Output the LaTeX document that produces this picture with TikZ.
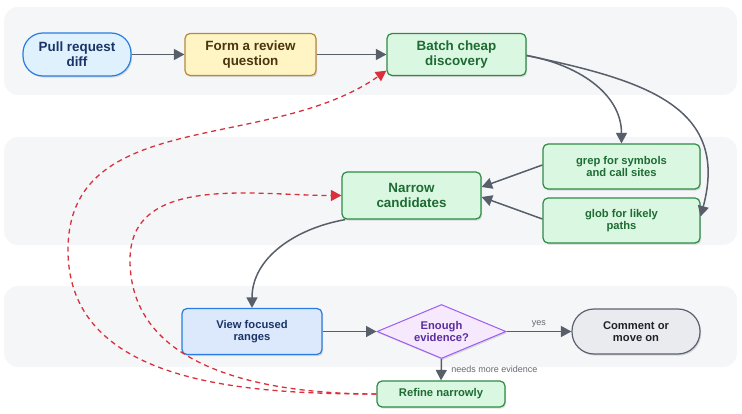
\documentclass[tikz,border=0pt]{standalone}
\usepackage{fontspec}
\setmainfont{Liberation Sans}
\usetikzlibrary{shapes.geometric}
\usetikzlibrary{arrows.meta}
\usetikzlibrary{shadows}
\definecolor{bandgray}{RGB}{245,246,248}
\definecolor{edgegray}{RGB}{88,95,106}
\definecolor{labelgray}{RGB}{100,104,112}
\definecolor{loopred}{RGB}{217,48,59}
\definecolor{bluefill}{RGB}{222,241,253}
\definecolor{blueline}{RGB}{40,125,225}
\definecolor{bluetext}{RGB}{26,52,104}
\definecolor{yellowfill}{RGB}{255,244,196}
\definecolor{yellowline}{RGB}{184,137,58}
\definecolor{yellowtext}{RGB}{74,53,16}
\definecolor{greenfill}{RGB}{218,247,225}
\definecolor{greenline}{RGB}{46,139,69}
\definecolor{greentext}{RGB}{30,107,51}
\definecolor{viewfill}{RGB}{220,232,252}
\definecolor{purplefill}{RGB}{246,232,253}
\definecolor{purpleline}{RGB}{156,92,240}
\definecolor{purpletext}{RGB}{91,45,158}
\definecolor{greyfill}{RGB}{233,235,239}
\definecolor{greyline}{RGB}{90,97,112}
\definecolor{greytext}{RGB}{31,35,40}

\tikzset{
  box/.style={rectangle, rounded corners=5pt, line width=1.2pt, align=center,
    inner sep=0pt, drop shadow={shadow xshift=1.2pt, shadow yshift=-1.6pt,
    opacity=0.12, fill=black}},
  big/.style={font=\fontsize{13.4}{14.8}\selectfont\bfseries},
  small/.style={font=\fontsize{11.2}{12.5}\selectfont\bfseries},
  greenbox/.style={box, fill=greenfill, draw=greenline, text=greentext},
  flow/.style={draw=edgegray, line width=1.5pt, -{Triangle[length=10.5pt,width=11pt]}},
  loop/.style={draw=loopred, line width=1.3pt, dash pattern=on 5pt off 4pt,
    -{Triangle[length=10.5pt,width=11pt]}},
  edgelabel/.style={font=\fontsize{9}{10}\selectfont, text=labelgray}
}

\begin{document}
\begin{tikzpicture}[x=1pt,y=1pt]
\useasboundingbox (0,0) rectangle (742,413);

% ---- Bands ----
\fill[bandgray, rounded corners=14pt] (4,318) rectangle (737,406);
\fill[bandgray, rounded corners=14pt] (4,168) rectangle (737,276);
\fill[bandgray, rounded corners=14pt] (4,46) rectangle (737,127);

% ---- Top row ----
\node[box, big, fill=bluefill, draw=blueline, text=bluetext, rounded corners=20pt,
  minimum width=108pt, minimum height=43pt] (pr) at (77,358.5) {Pull request\\diff};
\node[box, big, fill=yellowfill, draw=yellowline, text=yellowtext,
  minimum width=131pt, minimum height=42pt] (form) at (250.5,358.5) {Form a review\\question};
\node[greenbox, big, minimum width=139pt, minimum height=42pt]
  (batch) at (456.5,358.5) {Batch cheap\\discovery};

% ---- Middle row ----
\node[greenbox, small, minimum width=157pt, minimum height=45pt]
  (grep) at (621.5,246.5) {grep for symbols\\and call sites};
\node[greenbox, small, minimum width=157pt, minimum height=45pt]
  (glob) at (621.5,192.5) {glob for likely\\paths};
\node[greenbox, big, minimum width=139pt, minimum height=47pt]
  (narrow) at (411.5,217.5) {Narrow\\candidates};

% ---- Bottom row ----
\node[box, small, fill=viewfill, draw=blueline, text=bluetext,
  minimum width=140pt, minimum height=46pt] (view) at (252,81.5) {View focused\\ranges};
\node[box, small, diamond, aspect=2.4, fill=purplefill, draw=purpleline, text=purpletext,
  line width=1pt, rounded corners=0pt, minimum width=129pt, minimum height=54pt]
  (enough) at (441.5,81.5) {Enough\\evidence?};
\node[box, small, fill=greyfill, draw=greyline, text=greytext, rounded corners=22pt,
  minimum width=128pt, minimum height=45pt] (comment) at (636,81.5) {Comment or\\move on};
\node[greenbox, small, minimum width=128pt, minimum height=26pt]
  (refine) at (441,19) {Refine narrowly};

% turning points of the loops
\coordinate (outerturn) at (68,163);
\coordinate (innerturn) at (130,153);

% ---- Main flow ----
\draw[flow] (pr.east) -- (form.west);
\draw[flow] (form.east) -- (batch.west);
\draw[flow] ([yshift=-1pt]batch.east) to[out=-10, in=90] (grep.north);
\draw[flow] ([yshift=-1pt]batch.east) to[out=-12, in=75, looseness=1.25] ([yshift=4pt]glob.east);
\draw[flow] ([yshift=1.5pt]grep.west) -- ([yshift=8.5pt]narrow.east);
\draw[flow] ([yshift=1.5pt]glob.west) -- ([yshift=-1.5pt]narrow.east);
\draw[flow] (narrow.200) to[out=190, in=90] (view.north);
\draw[flow] (view.east) -- (enough.west);
\draw[flow] (enough.east) -- (comment.west)
  node[edgelabel, midway, above] {yes};
\draw[flow] (enough.south) -- (refine.north)
  node[edgelabel, midway, right=6pt] {needs more evidence};

% ---- Refinement loops ----
\draw[loop] (refine.west) to[out=180, in=270] (outerturn)
  to[out=90, in=215] (batch.193);
\draw[loop] (refine.west) to[out=180, in=270] (innerturn)
  to[out=90, in=180] (narrow.west);

\end{tikzpicture}
\end{document}
